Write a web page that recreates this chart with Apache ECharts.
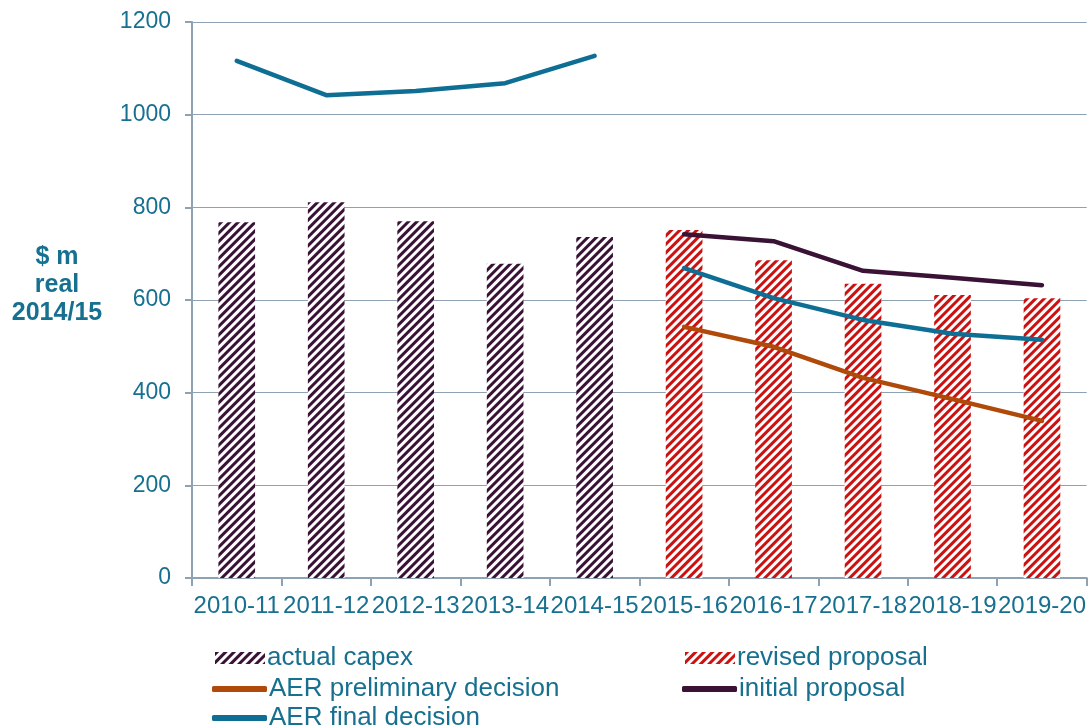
<!DOCTYPE html>
<html>
<head>
<meta charset="utf-8">
<script src="https://cdn.jsdelivr.net/npm/echarts@6/dist/echarts.min.js"></script>
<style>
  html, body { margin: 0; padding: 0; background: #fff; }
  #chart { width: 1089px; height: 726px; }
</style>
</head>
<body>
<div id="chart"></div>
<script>
// data
var years = ['2010-11', '2011-12', '2012-13', '2013-14', '2014-15', '2015-16', '2016-17', '2017-18', '2018-19', '2019-20'];
var actualCapex = [768, 811, 770, 678, 736, '-', '-', '-', '-', '-'];
var revisedProposal = ['-', '-', '-', '-', '-', 751, 686, 635, 611, 604];
var aerPreliminary = ['-', '-', '-', '-', '-', 542, 499, 432, 386, 339];
var initialProposal = ['-', '-', '-', '-', '-', 742, 727, 663, 648, 632];
var aerFinalPast = [1116, 1042, 1051, 1068, 1127, '-', '-', '-', '-', '-'];
var aerFinalFuture = ['-', '-', '-', '-', '-', 669, 604, 557, 527, 514];
var yTicks = [0, 200, 400, 600, 800, 1000, 1200];

var textBlue = '#17708f';
var axisGray = '#8ea2b4';
var purple = '#3a1236';
var red = '#cc1111';
var orange = '#b04a0a';
var teal = '#0f6e93';
var fontFam = 'Liberation Sans, Arial, sans-serif';

var chart = echarts.init(document.getElementById('chart'));

function stripes(c) {
    return {
        symbol: 'rect',
        symbolSize: 1,
        color: c,
        dashArrayX: [1, 0],
        dashArrayY: [2.4, 2.4],
        rotation: -Math.PI / 4
    };
}

function lineSerie(name, data, color) {
    return {
        name: name,
        type: 'line',
        data: data,
        showSymbol: false,
        symbol: 'none',
        lineStyle: { color: color, width: 4.5, cap: 'round' },
        itemStyle: { color: color },
        animation: false
    };
}

// one legend box per item so bar and line icons can differ in height
function legendItem(name, left, centerY, isLine) {
    return {
        left: left,
        top: centerY - 15,
        itemGap: 0,
        itemWidth: isLine ? 55 : 50,
        itemHeight: isLine ? 6 : 12,
        icon: isLine ? 'roundRect' : 'rect',
        textStyle: { color: textBlue, fontSize: 26, fontFamily: fontFam, padding: [0, 0, 0, -3] },
        data: [name]
    };
}

chart.setOption({
    textStyle: { fontFamily: fontFam },
    grid: { left: 192, right: 2, top: 22, bottom: 148 },
    graphic: [{
        type: 'text',
        x: 57,
        y: 243,
        style: {
            text: '$ m\nreal\n2014/15',
            fill: textBlue,
            font: 'bold 25px ' + fontFam,
            align: 'center',
            lineHeight: 28
        }
    }],
    legend: [
        legendItem('actual capex', 210, 655, false),
        legendItem('AER preliminary decision', 207, 686, true),
        legendItem('AER final decision', 207, 715, true),
        legendItem('revised proposal', 680, 655, false),
        legendItem('initial proposal', 677, 686, true)
    ],
    xAxis: {
        type: 'category',
        data: years,
        axisLine: { lineStyle: { color: axisGray, width: 2 } },
        axisTick: { show: true, length: 8, lineStyle: { color: axisGray, width: 2 } },
        axisLabel: {
            interval: 0,
            hideOverlap: false,
            color: textBlue,
            fontSize: 24,
            margin: 16
        }
    },
    yAxis: {
        type: 'value',
        min: 0,
        max: yTicks[yTicks.length - 1],
        interval: 200,
        axisLine: { show: true, lineStyle: { color: axisGray, width: 2 } },
        axisTick: { show: true, length: 7, lineStyle: { color: axisGray, width: 2 } },
        axisLabel: {
            color: textBlue,
            fontSize: 23,
            margin: 21,
            formatter: function (v) { return String(v); }
        },
        splitLine: { show: true, lineStyle: { color: axisGray, width: 1.2 } }
    },
    series: [{
        name: 'actual capex',
        type: 'bar',
        stack: 'capex',
        data: actualCapex,
        barWidth: '41%',
        itemStyle: { color: '#ffffff', decal: stripes(purple) },
        animation: false
    }, {
        name: 'revised proposal',
        type: 'bar',
        stack: 'capex',
        data: revisedProposal,
        barWidth: '41%',
        itemStyle: { color: '#ffffff', decal: stripes(red) },
        animation: false
    },
    lineSerie('AER preliminary decision', aerPreliminary, orange),
    lineSerie('initial proposal', initialProposal, purple),
    lineSerie('AER final decision', aerFinalPast, teal),
    lineSerie('AER final decision', aerFinalFuture, teal)
    ]
});
</script>
</body>
</html>
